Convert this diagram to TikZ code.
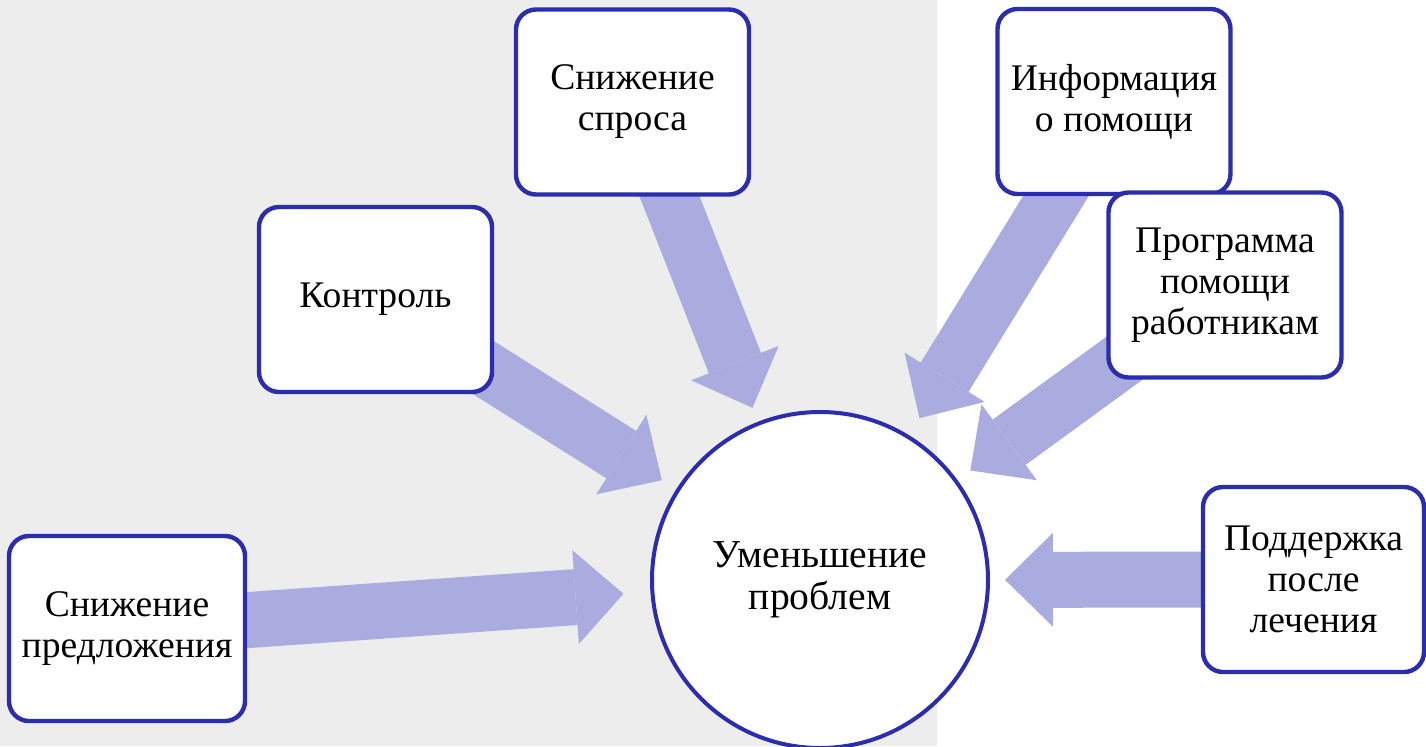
\documentclass[tikz,border=0pt]{standalone}
\usepackage{fontspec}
\setmainfont{Liberation Serif}
\usetikzlibrary{arrows.meta}
\pgfdeclarelayer{background}
\pgfsetlayers{background,main}
\definecolor{boxblue}{RGB}{44,44,174}
\definecolor{arrowfill}{RGB}{170,172,224}
\definecolor{panelgrey}{RGB}{237,237,237}

\begin{document}
\begin{tikzpicture}[x=0.5pt,y=-0.5pt,
  factor/.style={draw=boxblue, line width=2.2pt, fill=white, rounded corners=10pt,
    minimum width=116.5pt, minimum height=92.5pt, inner sep=0pt, align=center,
    font=\fontsize{18.8}{20.5}\selectfont},
  goalnode/.style={circle, draw=boxblue, line width=2pt, fill=white,
    minimum size=168pt, inner sep=0pt, align=center,
    font=\fontsize{19.8}{21}\selectfont},
  bigarrow/.style={draw=arrowfill, line width=28pt,
    -{Triangle[length=24pt,width=47pt,line width=0pt]}}]
  \useasboundingbox (0,0) rectangle (1426,746);

  % goal in the middle
  \node[goalnode] (goal) at (820,580) {Уменьшение\\проблем};

  % left side factors
  \node[factor] (demand)  at (632.5,102) {Снижение\\спроса};
  \node[factor] (control) at (375.5,299.5) {Контроль};
  \node[factor, minimum width=118pt] (supply) at (127,628.5) {Снижение\\предложения};

  % right side factors
  \node[factor] (info)      at (1114,101.5) {Информация\\о помощи};
  \node[factor] (program)   at (1225,285) {Программа\\помощи\\работникам};
  \node[factor, minimum width=110.5pt] (aftercare) at (1313.5,579.5) {Поддержка\\после\\лечения};

  \begin{pgfonlayer}{background}
    % grey panel behind the left part
    \fill[panelgrey] (0,0) rectangle (937,746);
    % arrows towards the goal
    \foreach \src/\gap in {supply/13.5pt, control/8.5pt, demand/7.5pt,
                           info/10pt, program/8pt, aftercare/7.5pt}
      \draw[bigarrow, shorten >=\gap] (\src.center) -- (goal);
  \end{pgfonlayer}
\end{tikzpicture}
\end{document}
